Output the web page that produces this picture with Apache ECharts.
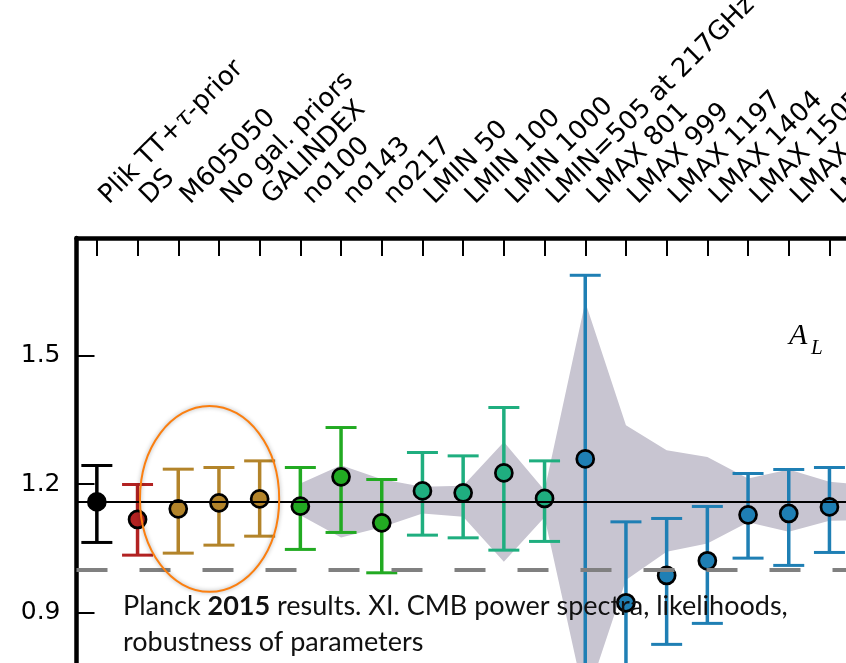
<!DOCTYPE html>
<html>
<head>
<meta charset="utf-8">
<script src="https://cdn.jsdelivr.net/npm/echarts@6/dist/echarts.min.js"></script>
<style>
  html, body { margin: 0; padding: 0; background: #ffffff; }
  #chart { width: 846px; height: 663px; }
</style>
</head>
<body>
<div id="chart"></div>
<script>
// Likelihood variants compared on the lensing amplitude A_L
const categories = [
  'Plik TT+τ-prior', 'DS', 'M605050', 'No gal. priors', 'GALINDEX',
  'no100', 'no143', 'no217',
  'LMIN 50', 'LMIN 100', 'LMIN 1000', 'LMIN=505 at 217GHz',
  'LMAX 801', 'LMAX 999', 'LMAX 1197', 'LMAX 1404', 'LMAX 1505', 'LMAX 1697', 'LMAX 1900', 'LMAX 2101'
];

// colour family of each variant
const groups = [
  'base', 'ds', 'gal', 'gal', 'gal',
  'freq', 'freq', 'freq',
  'lmin', 'lmin', 'lmin', 'lmin',
  'lmax', 'lmax', 'lmax', 'lmax', 'lmax', 'lmax', 'lmax', null
];

// posterior mean and 68% limits
const centers = [1.1586, 1.1175, 1.1423, 1.1563, 1.1656, 1.1486, 1.2171, 1.1095, 1.1843, 1.1797, 1.2264, 1.1666, 1.2591, 0.9225, 0.9866, 1.0207, 1.1282, 1.1315, 1.1469, null];
const errHigh = [1.2437, 1.1993, 1.2351, 1.2390, 1.2545, 1.2390, 1.3325, 1.2110, 1.2741, 1.2662, 1.3793, 1.2545, 1.6886, 1.1119, 1.1198, 1.1479, 1.2250, 1.2344, 1.2390, null];
const errLow  = [1.0637, 1.0340, 1.0387, 1.0574, 1.0784, 1.0474, 1.0871, 0.9927, 1.0808, 1.0745, 1.0457, 1.0661, 0.7000, 0.7300, 0.8253, 0.8744, 1.0270, 1.0100, 1.0403, null];

// expected scatter of the shifts (shaded band)
const bandHigh = [null, null, null, null, null, 1.2016, 1.2444, 1.2117, 1.1937, 1.1965, 1.2989, 1.1860, 1.6261, 1.3379, 1.2795, 1.2638, 1.2133, 1.2344, 1.2054, 1.1977];
const bandLow  = [null, null, null, null, null, 1.1275, 1.0754, 1.0995, 1.1315, 1.1236, 1.0184, 1.1229, 0.6900, 0.9756, 1.0417, 1.0614, 1.1112, 1.0885, 1.1147, 1.1158];

const referenceValue = 1.0;
const yTicks = [0.9, 1.2, 1.5];

// highlighted foreground-variant subset (category position / value, half-sizes)
const highlight = { cat: 2.77, value: 1.1656, halfCats: 1.71, halfValue: 0.2174 };

const groupColors = {
  base: '#000000',
  ds: '#b22222',
  gal: '#b3842a',
  freq: '#22aa22',
  lmin: '#1fae7f',
  lmax: '#1f7fb4'
};

const errData = [];
const pointData = [];
centers.forEach(function (c, i) {
  if (c == null) return;
  const color = groupColors[groups[i]];
  errData.push({ value: [i, errLow[i], errHigh[i]], itemStyle: { color: color } });
  pointData.push({ value: [i, c], itemStyle: { color: color } });
});

function renderBand(params, api) {
  if (params.dataIndex !== 0) return null;
  const upper = [];
  const lower = [];
  for (let i = 0; i < bandHigh.length; i++) {
    if (bandHigh[i] == null) continue;
    upper.push(api.coord([i, bandHigh[i]]));
    lower.push(api.coord([i, bandLow[i]]));
  }
  return {
    type: 'polygon',
    shape: { points: upper.concat(lower.reverse()) },
    style: { fill: '#c8c5d1' }
  };
}

function renderErr(params, api) {
  const i = api.value(0);
  const lo = api.coord([i, api.value(1)]);
  const hi = api.coord([i, api.value(2)]);
  const color = api.visual('color');
  const cap = 15.5;
  return {
    type: 'group',
    children: [
      { type: 'line', shape: { x1: lo[0], y1: lo[1], x2: hi[0], y2: hi[1] }, style: { stroke: color, lineWidth: 3.5 } },
      { type: 'line', shape: { x1: hi[0] - cap, y1: hi[1], x2: hi[0] + cap, y2: hi[1] }, style: { stroke: color, lineWidth: 3 } },
      { type: 'line', shape: { x1: lo[0] - cap, y1: lo[1], x2: lo[0] + cap, y2: lo[1] }, style: { stroke: color, lineWidth: 3 } }
    ]
  };
}

const chart = echarts.init(document.getElementById('chart'), null, { renderer: 'canvas' });

const option = {
  animation: false,
  backgroundColor: '#ffffff',
  grid: {
    left: 76.5, top: 238, right: -44.5, bottom: -77.7,
    containLabel: false, outerBoundsMode: 'none'
  },
  xAxis: {
    type: 'category',
    position: 'top',
    data: categories,
    boundaryGap: true,
    axisLine: { show: true, lineStyle: { color: '#000', width: 4.5 } },
    axisTick: { show: true, inside: true, alignWithLabel: true, length: 18, lineStyle: { color: '#000', width: 2 } },
    axisLabel: {
      show: true, interval: 0, rotate: -45, margin: 31,
      align: 'left', verticalAlign: 'middle', padding: [0, 0, 0, 10],
      fontFamily: 'DejaVu Sans', fontSize: 26, color: '#000',
      formatter: function (v) { return v.replace('τ', '{t|τ}'); },
      rich: { t: { fontFamily: 'DejaVu Serif', fontStyle: 'italic', fontSize: 26, color: '#000' } }
    },
    splitLine: { show: false }
  },
  yAxis: {
    type: 'value',
    min: 0.6, max: 1.7758, interval: 0.3,
    axisLine: { show: true, lineStyle: { color: '#000', width: 4.5 } },
    axisTick: { show: true, inside: true, length: 18, lineStyle: { color: '#000', width: 2 }, customValues: yTicks },
    axisLabel: {
      margin: 16, fontFamily: 'DejaVu Sans', fontSize: 25, color: '#000',
      customValues: yTicks,
      formatter: function (v) {
        return yTicks.some(function (t) { return Math.abs(t - v) < 1e-6; }) ? v.toFixed(1) : '';
      }
    },
    splitLine: { show: false }
  },
  series: [
    {
      type: 'custom', name: 'band', silent: true, z: 1,
      renderItem: renderBand,
      data: [[0]]
    },
    {
      type: 'line', name: 'lines', data: [], z: 2, silent: true,
      markLine: {
        silent: true, symbol: 'none', label: { show: false },
        data: [
          { yAxis: centers[0], lineStyle: { color: '#000', width: 2, type: 'solid' } },
          { yAxis: referenceValue, lineStyle: { color: '#808080', width: 4, type: [31, 32] } }
        ]
      }
    },
    {
      type: 'custom', name: 'errors', silent: true, z: 3,
      renderItem: renderErr,
      encode: { x: 0, y: [1, 2] },
      data: errData
    },
    {
      type: 'scatter', name: 'A_L', silent: true, z: 4,
      symbol: 'circle', symbolSize: 17,
      itemStyle: { borderColor: '#000', borderWidth: 2.7, opacity: 1 },
      data: pointData
    }
  ]
};

chart.setOption(option);

// annotations: ring around the foreground-model variants, parameter label, citation
const base = Math.floor(highlight.cat);
const p0 = chart.convertToPixel({ gridIndex: 0 }, [base, highlight.value]);
const p1 = chart.convertToPixel({ gridIndex: 0 }, [base + 1, highlight.value - highlight.halfValue]);
const step = p1[0] - p0[0];
const cx = p0[0] + (highlight.cat - base) * step;
const cy = p0[1];
const rx = step * highlight.halfCats;
const ry = p1[1] - p0[1];

chart.setOption({
  graphic: [
    {
      type: 'ellipse', z: 100,
      shape: { cx: cx, cy: cy, rx: rx, ry: ry },
      style: { fill: null, stroke: '#fb7f10', lineWidth: 2, shadowColor: 'rgba(0,0,0,0.35)', shadowBlur: 4 }
    },
    {
      type: 'text', z: 100, x: 789, y: 336,
      style: { text: 'A', font: 'italic 30px "Liberation Serif"', fill: '#000', verticalAlign: 'middle' }
    },
    {
      type: 'text', z: 100, x: 811, y: 348,
      style: { text: 'L', font: 'italic 21px "Liberation Serif"', fill: '#000', verticalAlign: 'middle' }
    },
    {
      type: 'text', z: 100, x: 123, y: 606,
      style: {
        text: 'Planck {b|2015} results. XI. CMB power spectra, likelihoods,',
        font: '27px Lato', fill: '#111', verticalAlign: 'middle',
        rich: { b: { fontFamily: 'Lato', fontSize: 27, fontWeight: 'bold', fill: '#111' } }
      }
    },
    {
      type: 'text', z: 100, x: 123, y: 642,
      style: { text: 'robustness of parameters', font: '27px Lato', fill: '#111', verticalAlign: 'middle' }
    }
  ]
});
</script>
</body>
</html>
